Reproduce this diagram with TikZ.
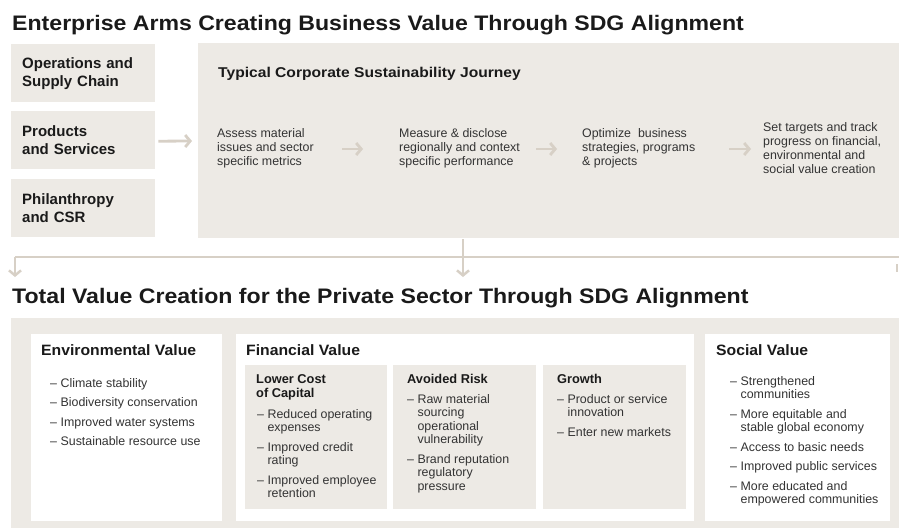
\documentclass[tikz,border=0pt]{standalone}
\usepackage{fontspec}
\setmainfont{Liberation Sans}
\newfontfamily\titlefont[FakeStretch=1.1]{Liberation Sans}
\newfontfamily\headfont[FakeStretch=1.05]{Liberation Sans}
\usetikzlibrary{arrows.meta}

\definecolor{panelgray}{HTML}{EDEAE5}
\definecolor{arrowgray}{HTML}{D7D0C6}
\definecolor{inkdark}{HTML}{1A1A1A}
\definecolor{inkgray}{HTML}{333333}

% row helpers for the stacked texts
\newcommand{\itemgap}{6pt}
\newcommand{\stacked}[1]{\begin{tabular}[t]{@{}l@{}}#1\end{tabular}}
\newcommand{\dashlist}[1]{\begin{tabular}[t]{@{}l@{\hspace{3.5pt}}l@{}}#1\end{tabular}}

\begin{document}
\begin{tikzpicture}[x=1pt, y=-1pt, >={Straight Barb[length=5pt, width=12pt]},
  armbox/.style={fill=panelgray, anchor=north west, minimum width=144pt, minimum height=58pt,
    text width=122pt, inner xsep=11pt, inner ysep=0pt, align=left,
    font=\fontsize{15}{18}\selectfont\bfseries, text=inkdark},
  panel/.style={fill=panelgray, anchor=north west, inner sep=0pt},
  card/.style={fill=white, anchor=north west, inner sep=0pt},
  bigtitle/.style={anchor=base west, inner sep=0pt, font=\titlefont\fontsize{21}{24}\selectfont\bfseries, text=inkdark},
  heading/.style={anchor=base west, inner sep=0pt, font=\headfont\fontsize{15}{18}\selectfont\bfseries, text=inkdark},
  subhead/.style={anchor=base west, inner sep=0pt, font=\fontsize{12.8}{14}\selectfont\bfseries, text=inkdark},
  steptext/.style={anchor=west, inner sep=0pt, align=left, font=\fontsize{12.4}{14}\selectfont, text=inkgray},
  listtext/.style={anchor=base west, inner sep=0pt, font=\fontsize{12.4}{13.5}\selectfont, text=inkgray},
  flow/.style={draw=arrowgray, line width=2.8pt, ->},
  link/.style={draw=arrowgray, line width=2.5pt}]

  \useasboundingbox (0,0) rectangle (899,528);

  % Upper title
  \node[bigtitle] (toptitle) at (12,30) {Enterprise Arms Creating Business Value Through SDG Alignment};

  % Enterprise arms
  \node[armbox] (ops)  at (11,44)  {Operations and\\Supply Chain};
  \node[armbox] (prod) at (11,111) {Products\\and Services};
  \node[armbox] (phil) at (11,179) {Philanthropy\\and CSR};

  % Journey panel with its four steps
  \node[panel, minimum width=701pt, minimum height=195pt] (journey) at (198,43) {};
  \node[heading, font=\titlefont\fontsize{14.2}{17}\selectfont\bfseries] (journeytitle) at (218,77) {Typical Corporate Sustainability Journey};

  \node[steptext] (s1) at (217,148) {Assess material\\issues and sector\\specific metrics};
  \node[steptext] (s2) at (399,148) {Measure \& disclose\\regionally and context\\specific performance};
  \node[steptext] (s3) at (582,148) {Optimize \ business\\strategies, programs\\\& projects};
  \node[steptext] (s4) at (763,148) {Set targets and track\\progress on financial,\\environmental and\\social value creation};

  \draw[flow] ([xshift=3pt, yshift=-1pt]prod.east) -- ([xshift=-6pt]journey.west |- 0,141);
  \draw[flow] ([xshift=-57pt, yshift=-1pt]s2.west) -- ([xshift=-36pt, yshift=-1pt]s2.west);
  \draw[flow] ([xshift=-46pt, yshift=-1pt]s3.west) -- ([xshift=-25pt, yshift=-1pt]s3.west);
  \draw[flow] ([xshift=-34pt, yshift=-1pt]s4.west) -- ([xshift=-12pt, yshift=-1pt]s4.west);

  % Link down to the value section
  \coordinate (busL) at (15,257);
  \coordinate (busR) at (899,257);
  \coordinate (drop) at (463,239);
  \draw[link] (busR) -- (busL);
  \draw[flow, line width=2.5pt] (busL) -- ++(0,20);
  \draw[flow, line width=2.5pt] (drop) -- ++(0,38);
  \draw[link] (897,264) -- (897,272);

  % Lower title
  \node[bigtitle] (bottitle) at (12,303) {Total Value Creation for the Private Sector Through SDG Alignment};

  % Value panels
  \node[panel, minimum width=888pt, minimum height=210pt] (values) at (11,318) {};
  \node[card, minimum width=191pt, minimum height=187pt] (env) at (31,334) {};
  \node[card, minimum width=458pt, minimum height=187pt] (fin) at (236,334) {};
  \node[card, minimum width=185pt, minimum height=187pt] (soc) at (705,334) {};

  \node[panel, minimum width=142pt, minimum height=144pt] (capital) at (245,365) {};
  \node[panel, minimum width=143pt, minimum height=144pt] (risk) at (393,365) {};
  \node[panel, minimum width=143pt, minimum height=144pt] (growth) at (543,365) {};

  % Environmental value
  \node[heading] (envhead) at (41,355) {Environmental Value};
  \node[listtext] (envlist) at (50,387) {\dashlist{
    – & Climate stability\\[\itemgap]
    – & Biodiversity conservation\\[\itemgap]
    – & Improved water systems\\[\itemgap]
    – & Sustainable resource use}};

  % Financial value
  \node[heading] (finhead) at (246,355) {Financial Value};
  \node[subhead] (caphead) at (256,383) {\stacked{Lower Cost\\of Capital}};
  \node[listtext] (caplist) at (257,418) {\dashlist{
    – & Reduced operating\\
      & expenses\\[\itemgap]
    – & Improved credit\\
      & rating\\[\itemgap]
    – & Improved employee\\
      & retention}};

  \node[subhead] (riskhead) at (407,383) {Avoided Risk};
  \node[listtext] (risklist) at (407,403) {\dashlist{
    – & Raw material\\
      & sourcing\\
      & operational\\
      & vulnerability\\[\itemgap]
    – & Brand reputation\\
      & regulatory\\
      & pressure}};

  \node[subhead] (growhead) at (557,383) {Growth};
  \node[listtext] (growlist) at (557,403) {\dashlist{
    – & Product or service\\
      & innovation\\[\itemgap]
    – & Enter new markets}};

  % Social value
  \node[heading] (sochead) at (716,355) {Social Value};
  \node[listtext] (soclist) at (730,385) {\dashlist{
    – & Strengthened\\
      & communities\\[\itemgap]
    – & More equitable and\\
      & stable global economy\\[\itemgap]
    – & Access to basic needs\\[\itemgap]
    – & Improved public services\\[\itemgap]
    – & More educated and\\
      & empowered communities}};
\end{tikzpicture}
\end{document}
